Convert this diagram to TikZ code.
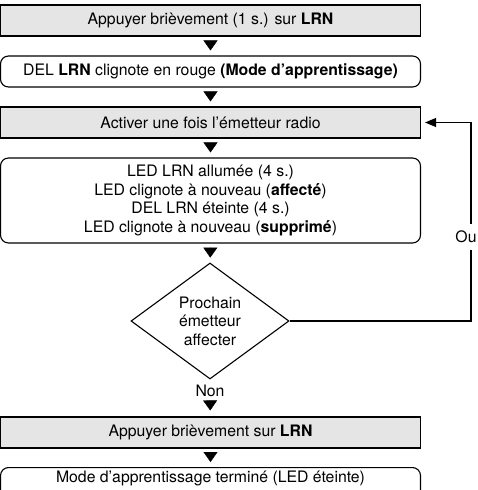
\documentclass[tikz,border=0pt]{standalone}
\usepackage{fontspec}
\setmainfont{TeX Gyre Heros}
\usetikzlibrary{arrows.meta,shapes.geometric}
\definecolor{boxGrey}{gray}{0.9}

\begin{document}
\begin{tikzpicture}[x=1bp, y=-1bp,
	every node/.style={font=\fontsize{15.8bp}{18.5bp}\selectfont, inner sep=0pt},
	greyBox/.style={draw, line width=1.1bp, fill=boxGrey, minimum width=420bp, minimum height=31bp},
	roundBox/.style={draw, line width=1.1bp, rounded corners=8bp, minimum width=420bp, minimum height=31bp, align=center},
	decisionShape/.style={draw, line width=1.1bp, diamond, aspect=1.36, minimum width=158bp, minimum height=116bp, align=center},
	stepArrow/.style={-{Triangle[width=14bp,length=10bp]}, shorten <=5bp, shorten >=5bp},
	backArrow/.style={line width=1.1bp, -{Triangle[width=9bp,length=11bp]}, shorten >=4bp}]
\useasboundingbox (0,0) rectangle (478,490);
\clip (0,0) rectangle (478,490);
	\node[greyBox] (press) at (210.5,20.5) {Appuyer brièvement (1 s.) sur \textbf{LRN}};
	\node[roundBox] (learn) at (210.5,71.5) {DEL \textbf{LRN} clignote en rouge \textbf{(Mode d’apprentissage)}};
	\node[greyBox] (activate) at (210.5,122.5) {Activer une fois l’émetteur radio};
	\node[roundBox] (blink) at (210.5,200.5) [minimum height=85bp]
		{LED LRN allumée (4 s.)\\ LED clignote à nouveau (\textbf{affecté})\\
		 DEL LRN éteinte (4 s.)\\ LED clignote à nouveau (\textbf{supprimé})};
	\node[decisionShape] (next) at (210,321) {Prochain\\ émetteur\\ affecter};
	\node (non) at (210,391) {Non};
	\node[greyBox] (pressEnd) at (210.5,432.5) {Appuyer brièvement sur \textbf{LRN}};
	\node[roundBox, anchor=north, text height=11bp, text depth=25bp, inner ysep=4bp] (done) at (210.5,467)
		{Mode d’apprentissage terminé (LED éteinte)};
	\coordinate (loop) at (471,122.5);
	\draw[stepArrow] (press) -- (learn);
	\draw[stepArrow] (learn) -- (activate);
	\draw[stepArrow] (activate) -- (blink);
	\draw[stepArrow] (blink) -- (next);
	\draw[stepArrow, shorten <=4bp, shorten >=6bp] (non) -- (pressEnd);
	\draw[stepArrow] (pressEnd) -- (done);
	\draw[backArrow] (next.east) -| (loop) -- (activate.east);
	\node[fill=white, inner xsep=1bp, inner ysep=7bp] (ou) at (466,237) {Ou};
\end{tikzpicture}
\end{document}
